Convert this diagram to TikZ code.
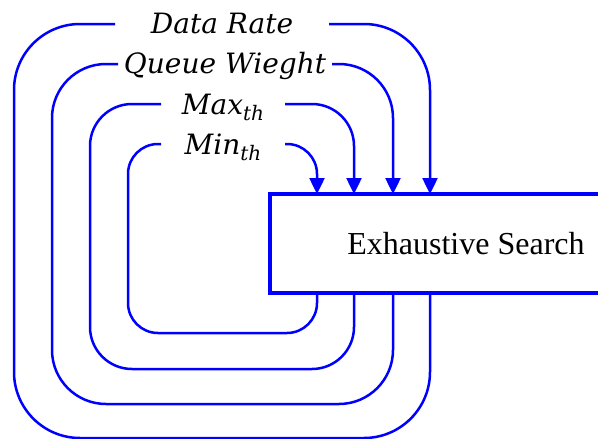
\documentclass[tikz,border=0pt]{standalone}
\usepackage{fontspec}
\setmainfont{Liberation Serif}
\newfontfamily\lblfont{DejaVu Serif}
\usetikzlibrary{arrows.meta}
\definecolor{loopblue}{RGB}{0,0,255}
\tikzset{
  lbl/.style={inner sep=0pt, outer sep=0pt, text height=20pt, text depth=0pt,
    font=\lblfont\itshape\fontsize{28}{28}\selectfont, align=center},
  loopline/.style={draw=loopblue, line width=2.5pt},
  feed/.style={loopline, -{Triangle[width=15pt,length=16pt]}},
  searchbox/.style={draw=loopblue, line width=4pt, fill=white, inner sep=0pt, outer sep=0pt,
    minimum width=392pt, minimum height=99pt, anchor=north west,
    font=\fontsize{32}{32}\selectfont}
}
\newcommand{\subth}{\raisebox{-6pt}{\fontsize{20}{20}\selectfont th}}
\begin{document}
\begin{tikzpicture}[x=1pt,y=-1pt]
\clip (0,0) rectangle (598,439);
\fill[white] (0,0) rectangle (598,439);

% parameter labels
\node[lbl, minimum width=214pt] (rate) at (222,24) {Data Rate};
\node[lbl, minimum width=214pt] (weight) at (225,64) {Queue Wieght};
\node[lbl, minimum width=124pt] (maxth) at (223,104) {Max\subth};
\node[lbl, minimum width=124pt] (minth) at (223,144) {Min\subth};

% search block (right side runs off the page)
\node[searchbox] (search) at (270,194) {Exhaustive Search};

% feedback loops: from each label round to the block's bottom
\draw[loopline, rounded corners=66pt] (rate.west) -| (14,438) -| ([xshift=160pt]search.south west);
\draw[loopline, rounded corners=54pt] (weight.west) -| (52,404) -| ([xshift=123pt]search.south west);
\draw[loopline, rounded corners=42pt] (maxth.west) -| (90,369) -| ([xshift=84pt]search.south west);
\draw[loopline, rounded corners=30pt] (minth.west) -| (128,333) -| ([xshift=47pt]search.south west);

% inputs into the block
\draw[feed, rounded corners=66pt] (rate.east) -| ([xshift=160pt]search.north west);
\draw[feed, rounded corners=54pt] (weight.east) -| ([xshift=123pt]search.north west);
\draw[feed, rounded corners=42pt] (maxth.east) -| ([xshift=84pt]search.north west);
\draw[feed, rounded corners=30pt] (minth.east) -| ([xshift=47pt]search.north west);
\end{tikzpicture}
\end{document}
